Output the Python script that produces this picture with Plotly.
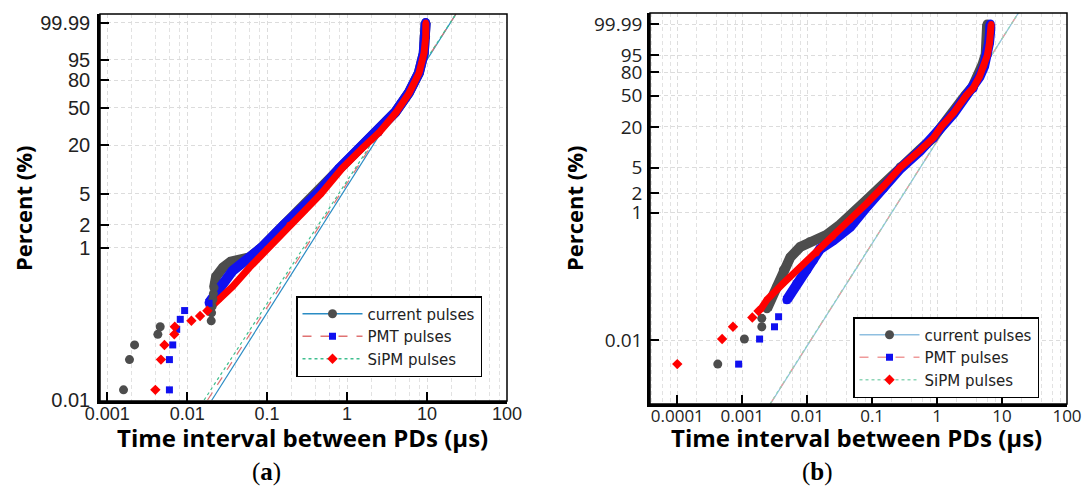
import numpy as np
import plotly.graph_objects as go

# ---------------- data: panel (a) ----------------
# sparse low-end points (time in us, cumulative percent)
a_cur_pts_x = [0.0016, 0.0019, 0.0022, 0.0043, 0.0046, 0.0200, 0.0202, 0.0205, 0.0210, 0.0213, 0.0217]
a_cur_pts_p = [0.0136, 0.034, 0.053, 0.073, 0.092, 0.11, 0.14, 0.17, 0.21, 0.25, 0.30]
a_pmt_pts_x = [0.0060, 0.0060, 0.0066, 0.0074, 0.0082, 0.0093, 0.0188]
a_pmt_pts_p = [0.0136, 0.034, 0.053, 0.085, 0.115, 0.15, 0.187]
a_sipm_pts_x = [0.0040, 0.0047, 0.0052, 0.0069, 0.0070, 0.0113, 0.0145, 0.0179]
a_sipm_pts_p = [0.0136, 0.034, 0.053, 0.073, 0.092, 0.11, 0.127, 0.149]

# dense part of each distribution
a_cur_x = [0.0217, 0.023, 0.028, 0.035, 0.045, 0.06, 0.085, 0.163, 0.25, 0.42, 0.8, 1.5, 2.45, 4.0, 5.9, 7.9, 9.1, 9.55, 9.6]
a_cur_p = [0.30, 0.42, 0.55, 0.66, 0.70, 0.75, 1.0, 2.0, 2.96, 5.0, 10.5, 19, 28.5, 45.5, 66.5, 86.5, 97.4, 99.76, 99.99]
a_pmt_x = [0.0188, 0.025, 0.037, 0.06, 0.085, 0.163, 0.25, 0.42, 0.8, 1.5, 2.45, 4.0, 5.9, 7.9, 9.1, 9.58, 9.62]
a_pmt_p = [0.19, 0.28, 0.5, 0.75, 1.0, 2.0, 2.96, 5.0, 10.5, 19, 28.5, 45.5, 66.5, 86.5, 97.4, 99.76, 99.99]
a_sipm_x = [0.019, 0.025, 0.037, 0.06, 0.1, 0.19, 0.3, 0.47, 0.87, 1.55, 2.51, 4.06, 5.96, 7.94, 9.17, 9.63, 9.65]
a_sipm_p = [0.16, 0.21, 0.31, 0.55, 0.97, 2.0, 3.1, 5.0, 10.6, 18.5, 28, 45, 66.3, 86.4, 97.4, 99.76, 99.99]

# fitted Weibull lines (two end points each)
a_fit_cur_x = [0.0204, 22.9]
a_fit_pmt_x = [0.0180, 22.9]
a_fit_sipm_x = [0.0163, 22.9]
a_fit_p = [0.01, 99.9993]

# ---------------- data: panel (b) ----------------
b_cur_pts_x = [0.00042, 0.00108, 0.0020, 0.0020]
b_cur_pts_p = [0.0042, 0.0104, 0.0162, 0.022]
b_pmt_pts_x = [0.00088, 0.00185, 0.00314, 0.00363, 0.00487]
b_pmt_pts_p = [0.0042, 0.0104, 0.0162, 0.0233, 0.0426]
b_sipm_pts_x = [0.0001, 0.00049, 0.00072, 0.00143, 0.00178]
b_sipm_pts_p = [0.0042, 0.0104, 0.0162, 0.0227, 0.0286]

b_cur_x = [0.0024, 0.0034, 0.0043, 0.0055, 0.0078, 0.011, 0.02, 0.032, 0.05, 0.083, 0.15, 0.27, 0.55, 0.88, 1.15, 1.8, 2.7, 3.5, 4.3, 5.0, 5.6, 5.85, 5.9, 5.9]
b_cur_p = [0.031, 0.069, 0.126, 0.2, 0.29, 0.35, 0.45, 0.65, 0.95, 1.6, 2.8, 5.1, 9.4, 14.2, 20.2, 31.2, 50, 61, 76, 88, 95.5, 99, 99.9, 99.99]
b_pmt_x = [0.00487, 0.00695, 0.0099, 0.0125, 0.0158, 0.0254, 0.046, 0.083, 0.15, 0.27, 0.55, 0.88, 1.15, 1.8, 2.8, 3.6, 4.5, 5.3, 5.9, 6.3, 6.55, 6.6]
b_pmt_p = [0.043, 0.078, 0.126, 0.18, 0.27, 0.37, 0.6, 1.24, 2.4, 4.8, 9.0, 13.8, 19.5, 30.5, 49.5, 59.5, 74.5, 86.5, 95, 99, 99.9, 99.99]
b_sipm_x = [0.0019, 0.0024, 0.0043, 0.0078, 0.014, 0.025, 0.046, 0.083, 0.15, 0.27, 0.55, 0.88, 1.15, 1.8, 2.8, 3.6, 4.5, 5.3, 5.95, 6.4, 6.7, 6.8]
b_sipm_p = [0.03, 0.043, 0.078, 0.14, 0.23, 0.42, 0.77, 1.4, 2.6, 5.0, 9.2, 14, 20, 31, 50, 60, 75, 87, 95, 99, 99.9, 99.99]

b_fit_cur_x = [0.00272, 17.9]
b_fit_pmt_x = [0.00270, 17.9]
b_fit_sipm_x = [0.00268, 17.9]
b_fit_p = [0.001, 99.9999]

# ---------------- axes ----------------
a_xrange = [-3.09, 2.0]      # log10 of us
a_yrange = [-9.24, 2.48]     # Weibull units
b_xrange = [-4.42, 2.0]
b_yrange = [-11.52, 2.62]

y_tick_pct = [0.01, 1, 2, 5, 20, 50, 80, 95, 99.99]
y_tick_text = ["0.01", "1", "2", "5", "20", "50", "80", "95", "99.99"]
a_xtick_vals = [0.001, 0.01, 0.1, 1, 10, 100]
a_xtick_text = ["0.001", "0.01", "0.1", "1", "10", "100"]
b_xtick_vals = [0.0001, 0.001, 0.01, 0.1, 1, 10, 100]
b_xtick_text = ["0.0001", "0.001", "0.01", "0.1", "1", "10", "100"]
minor_digits = [2, 4, 6, 8]

names = ["current pulses", "PMT pulses", "SiPM pulses"]


def weib(p):
    # Weibull probability scale: ln(-ln(1 - F))
    p = np.asarray(p, dtype=float) / 100.0
    return np.log(-np.log(1.0 - p))


W, H = 1086, 495
GREY, BLUE, RED = "#4d4d4d", "#1010f0", "#ff0000"

fig = go.Figure()


def add_panel(xa, ya, leg, pts, bands, fits, fit_p, legcols):
    styles = [
        dict(symbol="circle", size=9, color=GREY),
        dict(symbol="square", size=7, color=BLUE),
        dict(symbol="diamond", size=8, color=RED),
    ]
    widths = [10, 10, 7]
    dashes = ["solid", "dash", "dot"]
    # fitted lines first (under the data)
    for fx, c, d in zip(fits, legcols, dashes):
        fig.add_trace(go.Scatter(x=fx, y=weib(fit_p), mode="lines",
                                 line=dict(color=c, width=1.2, dash=d),
                                 xaxis=xa, yaxis=ya, showlegend=False, hoverinfo="skip"))
    for (bx, bp), st, w in zip(bands, styles, widths):
        fig.add_trace(go.Scatter(x=bx, y=weib(bp), mode="lines+markers",
                                 line=dict(color=st["color"], width=w),
                                 marker=dict(symbol="circle", size=w - 1, color=st["color"]),
                                 xaxis=xa, yaxis=ya, showlegend=False))
    for (px, pp), st in zip(pts, styles):
        fig.add_trace(go.Scatter(x=px, y=weib(pp), mode="markers", marker=st,
                                 xaxis=xa, yaxis=ya, showlegend=False))
    # legend entries
    for n, st, c, d in zip(names, styles, legcols, dashes):
        fig.add_trace(go.Scatter(x=[None], y=[None], mode="lines+markers", name=n,
                                 line=dict(color=c, width=1.5, dash=d), marker=st,
                                 xaxis=xa, yaxis=ya, legend=leg))


add_panel("x", "y", "legend",
          [(a_cur_pts_x, a_cur_pts_p), (a_pmt_pts_x, a_pmt_pts_p), (a_sipm_pts_x, a_sipm_pts_p)],
          [(a_cur_x, a_cur_p), (a_pmt_x, a_pmt_p), (a_sipm_x, a_sipm_p)],
          [a_fit_cur_x, a_fit_pmt_x, a_fit_sipm_x], a_fit_p,
          ["#2a8cc4", "#e07272", "#3fbf8f"])
add_panel("x2", "y2", "legend2",
          [(b_cur_pts_x, b_cur_pts_p), (b_pmt_pts_x, b_pmt_pts_p), (b_sipm_pts_x, b_sipm_pts_p)],
          [(b_cur_x, b_cur_p), (b_pmt_x, b_pmt_p), (b_sipm_x, b_sipm_p)],
          [b_fit_cur_x, b_fit_pmt_x, b_fit_sipm_x], b_fit_p,
          ["#8fbfe0", "#ef9a9a", "#8fd6b8"])

grid = dict(showgrid=True, gridcolor="#dcdcdc", gridwidth=1, griddash="4px,3px")
axline = dict(showline=True, linecolor="black", linewidth=2.5, ticks="inside",
              ticklen=9, tickwidth=2, tickcolor="black", zeroline=False,
              automargin=False, layer="above traces")


def minor_vals(lo, hi):
    return [d * 10.0 ** e for e in range(lo, hi) for d in minor_digits]


legend_style = dict(xanchor="left", yanchor="top", bordercolor="black", borderwidth=1.5,
                    bgcolor="white", itemwidth=60, tracegroupgap=0,
                    font=dict(family="DejaVu Sans", size=15, color="#222"))

fig.update_layout(
    width=W, height=H, template="none",
    paper_bgcolor="white", plot_bgcolor="white",
    margin=dict(l=0, r=0, t=0, b=0),
    xaxis=dict(domain=[100 / W, 507 / W], type="log", range=a_xrange, anchor="y",
               tickvals=a_xtick_vals, ticktext=a_xtick_text, ticklabelstandoff=-5,
               tickfont=dict(family="Liberation Sans", size=18, color="#222"),
               minor=dict(tickvals=minor_vals(-4, 2), showgrid=True, gridcolor="#e2e2e2",
                          griddash="4px,3px", ticks=""),
               **grid, **axline),
    yaxis=dict(domain=[1 - 401 / H, 1 - 14 / H], range=a_yrange, anchor="x",
               tickvals=weib(y_tick_pct), ticktext=y_tick_text, ticklabelstandoff=3,
               tickfont=dict(family="Liberation Sans", size=20, color="#222"),
               **grid, **axline),
    xaxis2=dict(domain=[650 / W, 1067 / W], type="log", range=b_xrange, anchor="y2",
                tickvals=b_xtick_vals, ticktext=b_xtick_text, ticklabelstandoff=-5,
                tickfont=dict(family="Open Sans", size=17, color="#222"),
                minor=dict(tickvals=minor_vals(-5, 2), showgrid=True, gridcolor="#e2e2e2",
                           griddash="4px,3px", ticks=""),
                **grid, **axline),
    yaxis2=dict(domain=[1 - 404 / H, 1 - 13 / H], range=b_yrange, anchor="x2",
                tickvals=weib(y_tick_pct), ticktext=y_tick_text, ticklabelstandoff=1,
                tickfont=dict(family="Open Sans", size=19, color="#222"),
                **grid, **axline),
    legend=dict(x=296 / W, y=1 - 296 / H, **legend_style),
    legend2=dict(x=853 / W, y=1 - 317 / H, **legend_style),
    showlegend=True,
)

# frames (thin top/right)
for xr, yr in [("x domain", "y domain"), ("x2 domain", "y2 domain")]:
    fig.add_shape(type="rect", xref=xr, yref=yr, x0=0, x1=1, y0=0, y1=1,
                  line=dict(color="black", width=1.5), layer="above")

ann = [
    dict(x=23, y=208, text="<b>Percent (%)</b>", textangle=-90, size=22),
    dict(x=574, y=208, text="<b>Percent (%)</b>", textangle=-90, size=22),
    dict(x=302, y=437, text="<b>Time interval between PDs (µs)</b>", size=24),
    dict(x=856, y=437, text="<b>Time interval between PDs (µs)</b>", size=24),
]
for a in ann:
    fig.add_annotation(x=a["x"] / W, y=1 - a["y"] / H, xref="paper", yref="paper",
                       text=a["text"], textangle=a.get("textangle", 0), showarrow=False,
                       font=dict(family="Open Sans", size=a["size"], color="black"),
                       xanchor="center", yanchor="middle")
for lbl, xc in [("a", 266), ("b", 817)]:
    fig.add_annotation(x=xc / W, y=1 - 472 / H, xref="paper", yref="paper",
                       text="(<b>%s</b>)" % lbl, showarrow=False,
                       font=dict(family="Liberation Serif", size=25, color="black"),
                       xanchor="center", yanchor="middle")

# the page's default body margin would shift the figure
fig.write_html("out.html", config={"displayModeBar": False},
               post_script="document.body.style.margin='0px';")
